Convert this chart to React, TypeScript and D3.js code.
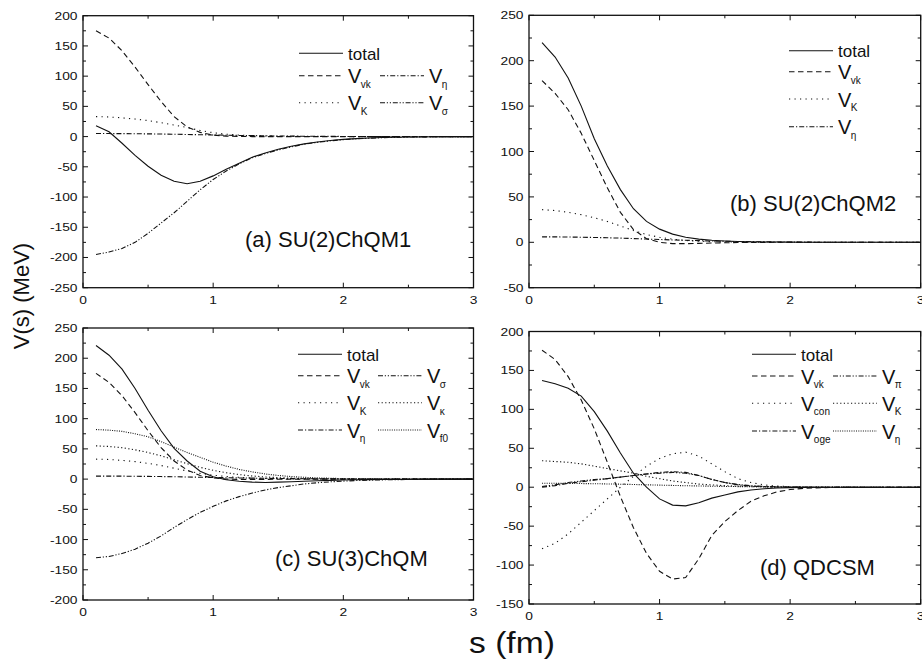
import React from 'react';
import * as d3 from 'd3';

// ---------- data ----------
const S = [0.1, 0.2, 0.3, 0.4, 0.5, 0.6, 0.7, 0.8, 0.9, 1.0, 1.1, 1.2, 1.3, 1.4, 1.5, 1.6, 1.7, 1.8, 1.9, 2.0, 2.1, 2.2, 2.3, 2.4, 2.5, 2.6, 2.7, 2.8, 2.9, 3.0];

// (a) SU(2)ChQM1
const aTotal = [18, 8, -11, -31, -49, -64, -74, -78, -74, -65, -54, -44, -34, -27, -21, -16, -12, -9, -6.5, -4.6, -3.3, -2.3, -1.6, -1.1, -0.8, -0.5, -0.35, -0.2, -0.15, -0.1];
const aVvk = [175, 163, 142, 115, 86, 58, 33, 16, 7, 2.5, 0.8, 0.2, 0, 0, 0, 0, 0, 0, 0, 0, 0, 0, 0, 0, 0, 0, 0, 0, 0, 0];
const aVK = [33, 32.5, 31, 29, 26.5, 23, 19, 15, 10, 6.5, 4, 2.5, 1.5, 1, 0.6, 0.4, 0.25, 0.15, 0.1, 0.05, 0, 0, 0, 0, 0, 0, 0, 0, 0, 0];
const aVeta = [5, 5, 4.9, 4.7, 4.5, 4.2, 3.9, 3.5, 3.1, 2.7, 2.3, 1.9, 1.6, 1.3, 1, 0.8, 0.6, 0.45, 0.35, 0.25, 0.2, 0.15, 0.1, 0.07, 0.05, 0.03, 0.02, 0.01, 0, 0];
const aVsigma = [-195, -191, -185, -175, -160, -143, -126, -107, -88, -71, -57, -45, -35, -28, -22, -17, -12.5, -9.5, -7, -5, -3.6, -2.6, -1.8, -1.2, -0.8, -0.5, -0.3, -0.2, -0.1, -0.1];

// (b) SU(2)ChQM2
const bTotal = [220, 204, 181, 150, 114, 84, 58, 37, 23, 14.5, 9, 5.5, 3.5, 2.2, 1.4, 0.9, 0.6, 0.4, 0.25, 0.15, 0.1, 0.06, 0.04, 0.02, 0.01, 0, 0, 0, 0, 0];
const bVvk = [178, 164, 146, 120, 90, 60, 33, 14, 4, 0, -1.5, -1.5, -1.2, -0.8, -0.5, -0.3, -0.2, -0.1, 0, 0, 0, 0, 0, 0, 0, 0, 0, 0, 0, 0];
const bVK = [36, 35, 33, 30.5, 27, 23, 18, 13, 8.5, 5.5, 3.5, 2, 1.2, 0.7, 0.4, 0.25, 0.15, 0.1, 0.05, 0, 0, 0, 0, 0, 0, 0, 0, 0, 0, 0];
const bVeta = [6, 6, 5.8, 5.6, 5.3, 5, 4.6, 4.1, 3.6, 3.1, 2.6, 2.2, 1.8, 1.4, 1.1, 0.85, 0.65, 0.5, 0.35, 0.25, 0.18, 0.12, 0.08, 0.05, 0.03, 0.02, 0.01, 0, 0, 0];

// (c) SU(3)ChQM
const cTotal = [221, 205, 182, 150, 114, 80, 51, 30, 13, 4, -1, -3.5, -5, -5.5, -5, -4.3, -3.6, -2.8, -2.1, -1.5, -1.1, -0.8, -0.55, -0.4, -0.25, -0.15, -0.1, -0.05, 0, 0];
const cVvk = [175, 160, 138, 110, 80, 52, 30, 15, 6, 2, 0, -0.5, -0.5, -0.4, -0.3, -0.2, -0.1, 0, 0, 0, 0, 0, 0, 0, 0, 0, 0, 0, 0, 0];
const cVK = [33, 32.5, 31, 29, 26, 22.5, 18, 13.5, 9.5, 6.5, 4.3, 2.8, 1.8, 1.1, 0.7, 0.45, 0.3, 0.2, 0.1, 0.05, 0, 0, 0, 0, 0, 0, 0, 0, 0, 0];
const cVkappa = [55, 54, 52, 48.5, 44, 38.5, 32, 25.5, 19.5, 14.5, 10.5, 7.5, 5.2, 3.6, 2.4, 1.6, 1, 0.65, 0.4, 0.25, 0.15, 0.1, 0.05, 0, 0, 0, 0, 0, 0, 0];
const cVf0 = [82, 81, 79, 75, 70, 62, 53, 44, 36, 28, 21.5, 16, 12, 8.5, 6, 4.2, 3, 2, 1.4, 0.9, 0.6, 0.4, 0.25, 0.15, 0.1, 0.05, 0, 0, 0, 0];
const cVeta = [5, 5, 4.9, 4.7, 4.5, 4.2, 3.9, 3.5, 3.1, 2.7, 2.3, 1.9, 1.6, 1.3, 1, 0.8, 0.6, 0.45, 0.35, 0.25, 0.2, 0.15, 0.1, 0.07, 0.05, 0.03, 0.02, 0.01, 0, 0];
const cVsigma = [-130, -128, -123, -116, -106, -94, -80, -67, -55, -45, -36, -29, -23, -18, -14, -11, -8, -6, -4.5, -3.3, -2.4, -1.7, -1.2, -0.9, -0.6, -0.4, -0.3, -0.2, -0.1, -0.1];

// (d) QDCSM
const dTotal = [137, 133, 127, 117, 97, 72, 44, 18, 0, -15, -23, -24, -20, -14, -10, -6, -3.5, -2, -1, -0.5, -0.25, -0.1, 0, 0, 0, 0, 0, 0, 0, 0];
const dVvk = [176, 164, 142, 112, 75, 32, -12, -52, -85, -108, -118, -116, -92, -62, -44, -30, -18, -11, -6, -3, -1.5, -0.8, -0.4, -0.2, -0.1, 0, 0, 0, 0, 0];
const dVcon = [-79, -72, -60, -45, -30, -15, 0, 14, 27, 37, 43, 45, 40, 30, 20, 11, 6, 3, 1.5, 0.7, 0.3, 0.1, 0, 0, 0, 0, 0, 0, 0, 0];
const dVK = [34, 33, 32, 30, 27, 24, 21, 18, 14, 11, 8, 6, 4, 3, 2, 1.3, 0.8, 0.5, 0.3, 0.2, 0.1, 0, 0, 0, 0, 0, 0, 0, 0, 0];
const dVoge = [0, 2, 5, 7, 9, 11, 13, 15, 17, 19, 20, 19, 15, 10, 6, 3, 1.5, 0.7, 0.3, 0.1, 0, 0, 0, 0, 0, 0, 0, 0, 0, 0];
const dVpi = [1, 3, 6, 8, 10, 11, 13, 15, 17, 18, 19, 18, 15, 10, 6, 3.5, 2, 1, 0.5, 0.2, 0, 0, 0, 0, 0, 0, 0, 0, 0, 0];
const dVeta = [5, 5, 4.9, 4.7, 4.5, 4.2, 3.9, 3.5, 3.1, 2.7, 2.3, 1.9, 1.6, 1.3, 1, 0.8, 0.6, 0.45, 0.35, 0.25, 0.2, 0.15, 0.1, 0.07, 0.05, 0.03, 0.02, 0.01, 0, 0];

const xTicks = [0, 1, 2, 3];
const xMinorTicks = [0.5, 1.5, 2.5];
const aYTicks = [200, 150, 100, 50, 0, -50, -100, -150, -200, -250];
const bYTicks = [250, 200, 150, 100, 50, 0, -50];
const cYTicks = [250, 200, 150, 100, 50, 0, -50, -100, -150, -200];
const dYTicks = [200, 150, 100, 50, 0, -50, -100, -150];

const panelLabels = ['(a) SU(2)ChQM1', '(b) SU(2)ChQM2', '(c) SU(3)ChQM', '(d) QDCSM'];

// ---------- styles ----------
const DASH: Record<string, string | undefined> = {
  solid: undefined,
  dash: '5.5 3.5',
  dot: '1.2 4.3',
  dashDot: '5 2 1.2 2',
  dashDotDot: '5 1.8 1.2 1.8 1.2 1.8',
  shortDot: '1.2 2.4',
  denseDot: '1 1.3',
};

const FONT = '"Liberation Sans", Arial, Helvetica, sans-serif';

type Series = { values: number[]; style: string; name: string; sub?: string; col: number; row: number };

type PanelCfg = {
  left: number; right: number; top: number; bottom: number;
  yTicks: number[];
  series: Series[];
  legendCols: [number, number];
  legendRows: number[];
  label: string;
  labelPos: [number, number];
};

const panels: PanelCfg[] = [
  {
    left: 83, right: 473.5, top: 15.7, bottom: 287.7, yTicks: aYTicks,
    series: [
      { values: aTotal, style: 'solid', name: 'total', col: 0, row: 0 },
      { values: aVvk, style: 'dash', name: 'V', sub: 'vk', col: 0, row: 1 },
      { values: aVeta, style: 'dashDot', name: 'V', sub: 'η', col: 1, row: 1 },
      { values: aVK, style: 'dot', name: 'V', sub: 'K', col: 0, row: 2 },
      { values: aVsigma, style: 'dashDotDot', name: 'V', sub: 'σ', col: 1, row: 2 },
    ],
    legendCols: [216, 297], legendRows: [37.6, 60, 87],
    label: panelLabels[0], labelPos: [162, 231],
  },
  {
    left: 529, right: 920.7, top: 15.3, bottom: 287.7, yTicks: bYTicks,
    series: [
      { values: bTotal, style: 'solid', name: 'total', col: 0, row: 0 },
      { values: bVvk, style: 'dash', name: 'V', sub: 'vk', col: 0, row: 1 },
      { values: bVK, style: 'dot', name: 'V', sub: 'K', col: 0, row: 2 },
      { values: bVeta, style: 'dashDot', name: 'V', sub: 'η', col: 0, row: 3 },
    ],
    legendCols: [260, 340], legendRows: [35.4, 56.4, 83.7, 111.4],
    label: panelLabels[1], labelPos: [201, 195.4],
  },
  {
    left: 83, right: 473.5, top: 328, bottom: 600, yTicks: cYTicks,
    series: [
      { values: cTotal, style: 'solid', name: 'total', col: 0, row: 0 },
      { values: cVvk, style: 'dash', name: 'V', sub: 'vk', col: 0, row: 1 },
      { values: cVsigma, style: 'dashDotDot', name: 'V', sub: 'σ', col: 1, row: 1 },
      { values: cVK, style: 'dot', name: 'V', sub: 'K', col: 0, row: 2 },
      { values: cVkappa, style: 'shortDot', name: 'V', sub: 'κ', col: 1, row: 2 },
      { values: cVeta, style: 'dashDot', name: 'V', sub: 'η', col: 0, row: 3 },
      { values: cVf0, style: 'denseDot', name: 'V', sub: 'f0', col: 1, row: 3 },
    ],
    legendCols: [215, 295], legendRows: [26.3, 47.7, 74.7, 102],
    label: panelLabels[2], labelPos: [192, 238],
  },
  {
    left: 529, right: 920.7, top: 331.5, bottom: 604, yTicks: dYTicks,
    series: [
      { values: dTotal, style: 'solid', name: 'total', col: 0, row: 0 },
      { values: dVvk, style: 'dash', name: 'V', sub: 'vk', col: 0, row: 1 },
      { values: dVpi, style: 'dashDotDot', name: 'V', sub: 'π', col: 1, row: 1 },
      { values: dVcon, style: 'dot', name: 'V', sub: 'con', col: 0, row: 2 },
      { values: dVK, style: 'shortDot', name: 'V', sub: 'K', col: 1, row: 2 },
      { values: dVoge, style: 'dashDot', name: 'V', sub: 'oge', col: 0, row: 3 },
      { values: dVeta, style: 'denseDot', name: 'V', sub: 'η', col: 1, row: 3 },
    ],
    legendCols: [223, 304], legendRows: [22.8, 44.5, 71.8, 99.5],
    label: panelLabels[3], labelPos: [231, 243.5],
  },
];

const STROKE = '#111';

function Panel({ cfg }: { cfg: PanelCfg }) {
  const { left, right, top, bottom, yTicks } = cfg;
  const yMax = d3.max(yTicks)!;
  const yMin = d3.min(yTicks)!;
  const x = d3.scaleLinear().domain([0, 3]).range([left, right]);
  const y = d3.scaleLinear().domain([yMin, yMax]).range([bottom, top]);
  const line = d3.line<number>().x((_, i) => x(S[i])).y((v) => y(v)).curve(d3.curveLinear);

  const yMinor: number[] = [];
  for (let i = 0; i < yTicks.length - 1; i++) yMinor.push((yTicks[i] + yTicks[i + 1]) / 2);

  const MAJ = 5;
  const MIN = 3;
  const lineLen = 44;

  return (
    <g>
      {/* curves */}
      {cfg.series.map((s, i) => (
        <path key={'s' + i} d={line(s.values) || ''} fill="none" stroke={STROKE} strokeWidth={1.1}
          strokeDasharray={DASH[s.style]} />
      ))}
      {/* frame */}
      <rect x={left} y={top} width={right - left} height={bottom - top} fill="none" stroke={STROKE} strokeWidth={1.3} />
      {/* x ticks */}
      {xTicks.map((t) => (
        <g key={'xt' + t}>
          <line x1={x(t)} x2={x(t)} y1={bottom} y2={bottom - MAJ} stroke={STROKE} strokeWidth={1} />
          <line x1={x(t)} x2={x(t)} y1={top} y2={top + MAJ} stroke={STROKE} strokeWidth={1} />
          <text transform={`translate(${x(t)},${bottom + 16}) scale(1.2,1)`} textAnchor="middle" fontSize={11.5} fontFamily={FONT} fill="#111">{t}</text>
        </g>
      ))}
      {xMinorTicks.map((t) => (
        <g key={'xm' + t}>
          <line x1={x(t)} x2={x(t)} y1={bottom} y2={bottom - MIN} stroke={STROKE} strokeWidth={1} />
          <line x1={x(t)} x2={x(t)} y1={top} y2={top + MIN} stroke={STROKE} strokeWidth={1} />
        </g>
      ))}
      {/* y ticks */}
      {yTicks.map((t) => (
        <g key={'yt' + t}>
          <line x1={left} x2={left + MAJ} y1={y(t)} y2={y(t)} stroke={STROKE} strokeWidth={1} />
          <line x1={right} x2={right - MAJ} y1={y(t)} y2={y(t)} stroke={STROKE} strokeWidth={1} />
          <text transform={`translate(${left - 5.5},${y(t) + 4}) scale(1.2,1)`} textAnchor="end" fontSize={11.5} fontFamily={FONT} fill="#111">{t}</text>
        </g>
      ))}
      {yMinor.map((t) => (
        <g key={'ym' + t}>
          <line x1={left} x2={left + MIN} y1={y(t)} y2={y(t)} stroke={STROKE} strokeWidth={1} />
          <line x1={right} x2={right - MIN} y1={y(t)} y2={y(t)} stroke={STROKE} strokeWidth={1} />
        </g>
      ))}
      {/* legend */}
      {cfg.series.map((s, i) => {
        const lx = left + cfg.legendCols[s.col];
        const ly = top + cfg.legendRows[s.row];
        const tx = lx + lineLen + 5;
        return (
          <g key={'lg' + i}>
            <line x1={lx} x2={lx + lineLen} y1={ly} y2={ly} stroke={STROKE} strokeWidth={1.1} strokeDasharray={DASH[s.style]} />
            {s.sub ? (
              <text x={tx} y={ly + 7.5} fontSize={20} fontFamily={FONT} fill="#111">
                V<tspan fontSize={10} dx={-0.5} dy={4.5}>{s.sub}</tspan>
              </text>
            ) : (
              <text x={tx} y={ly + 6.5} fontSize={17} fontFamily={FONT} fill="#111">{s.name}</text>
            )}
          </g>
        );
      })}
      {/* panel label */}
      <text x={left + cfg.labelPos[0]} y={top + cfg.labelPos[1]} fontSize={22} fontFamily={FONT} fill="#111">{cfg.label}</text>
    </g>
  );
}

export default function App() {
  return (
    <svg width={922} height={665} viewBox="0 0 922 665" style={{ position: 'absolute', left: 0, top: 0, background: '#fff' }}>
      <rect x={0} y={0} width={922} height={665} fill="#fff" />
      {panels.map((p, i) => (
        <Panel key={i} cfg={p} />
      ))}
      <text transform="translate(29,296) rotate(-90)" textAnchor="middle" fontSize={22} fontFamily={FONT} fill="#111">V(s) (MeV)</text>
      <text transform="translate(469,653) scale(1.12,1)" textAnchor="start" fontSize={30} fontFamily={FONT} fill="#111">s (fm)</text>
    </svg>
  );
}
